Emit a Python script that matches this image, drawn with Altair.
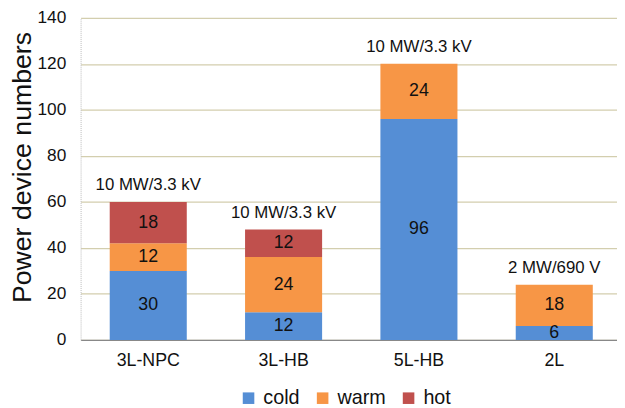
import altair as alt
import pandas as pd

categories = ["3L-NPC", "3L-HB", "5L-HB", "2L"]
series = ["cold", "warm", "hot"]
cold = [30, 12, 96, 6]
warm = [12, 24, 24, 18]
hot = [18, 12, 0, 0]
ratings = ["10 MW/3.3 kV", "10 MW/3.3 kV", "10 MW/3.3 kV", "2 MW/690 V"]
colors = ["#558ED5", "#F79646", "#C0504D"]

rows = []
for i, c in enumerate(categories):
    for j, (s, vals) in enumerate(zip(series, [cold, warm, hot])):
        rows.append({"cat": c, "series": s, "idx": j, "value": vals[i]})
df = pd.DataFrame(rows)
tot = pd.DataFrame({"cat": categories, "total": [a + b + c for a, b, c in zip(cold, warm, hot)], "rating": ratings})

FONT = "Liberation Sans"

xenc = alt.X("cat:N", sort=categories, title=None,
             scale=alt.Scale(paddingInner=0.4307, paddingOuter=0.197, align=0.546),
             axis=alt.Axis(labelAngle=0, labelFontSize=18, labelColor="#111", labelFont=FONT,
                           tickSize=0, labelPadding=12, domainColor="#888888", domainWidth=1.2,
                           grid=False))

yscale = alt.Scale(domain=[0, 140])

bars = alt.Chart(df).mark_bar().encode(
    x=xenc,
    y=alt.Y("value:Q", stack="zero", scale=yscale, title="Power device numbers",
            axis=alt.Axis(values=list(range(0, 141, 20)), labelFontSize=17.5, labelFont=FONT,
                          labelColor="#111", tickSize=0, labelPadding=15,
                          titleFontSize=27, titleFont=FONT, titleFontWeight="normal",
                          titleColor="#111", titlePadding=1, titleY=151,
                          gridColor="#D3CEAE", gridWidth=1.3,
                          domainColor="#bbbbbb", domainDash=[1, 1])),
    color=alt.Color("series:N", scale=alt.Scale(domain=series, range=colors),
                    legend=alt.Legend(title=None, orient="none", legendX=160, legendY=375,
                                      direction="horizontal", symbolType="square",
                                      symbolSize=137, symbolStrokeWidth=0, labelFontSize=20,
                                      labelFont=FONT, labelColor="#111", columnPadding=13,
                                      labelOffset=5)),
    order=alt.Order("idx:Q", sort="ascending"),
)

labels = alt.Chart(df).transform_filter("datum.value > 0").transform_stack(
    stack="value", groupby=["cat"], as_=["v0", "v1"], sort=[alt.SortField("idx", order="ascending")]
).transform_calculate(mid="(datum.v0 + datum.v1) / 2").mark_text(
    fontSize=18, font=FONT, color="#111", baseline="middle"
).encode(
    x=alt.X("cat:N", sort=categories),
    y=alt.Y("mid:Q", scale=yscale),
    text="value:Q",
)

tops = alt.Chart(tot).mark_text(fontSize=17, font=FONT, color="#111", baseline="middle", dy=-17).encode(
    x=alt.X("cat:N", sort=categories),
    y=alt.Y("total:Q", scale=yscale),
    text="rating:N",
)

chart = alt.layer(bars, labels, tops).properties(
    width=543, height=326,
    autosize=alt.AutoSizeParams(type="none"),
    padding={"left": 73.5, "top": 7.5, "right": 0, "bottom": 70},
).configure_view(stroke=None).configure_axis(labelFont=FONT)

chart.save("out.html", embed_options={"renderer": "svg", "actions": False})
